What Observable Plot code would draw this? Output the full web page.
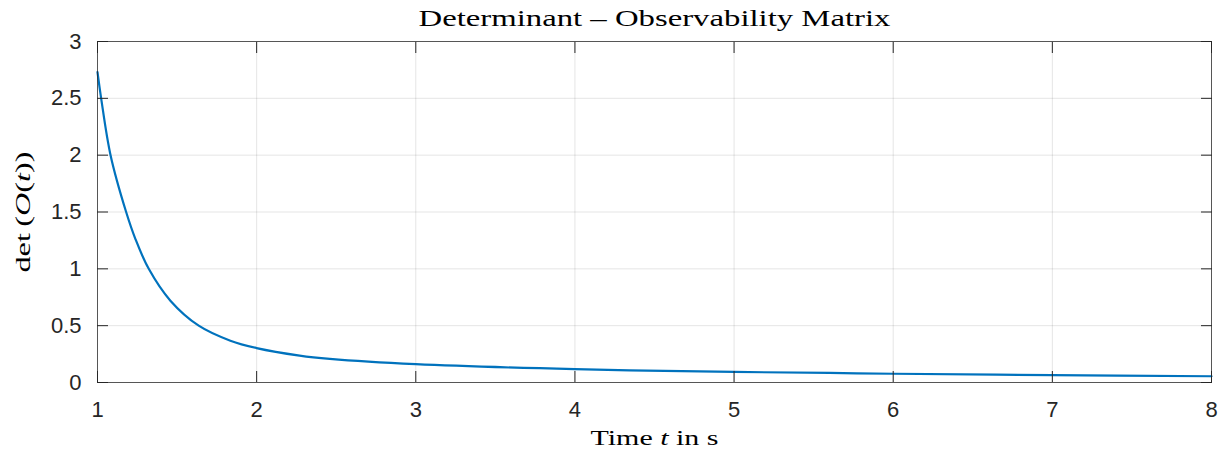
<!DOCTYPE html>
<html>
<head>
<meta charset="utf-8">
<script src="https://cdn.jsdelivr.net/npm/d3@7"></script>
<script src="https://cdn.jsdelivr.net/npm/@observablehq/plot@0.6"></script>
<style>
  html, body { margin: 0; padding: 0; background: #fff; }
</style>
</head>
<body>
<div id="chart"></div>
<script>
// Determinant of the observability matrix over time
const time = [1.0, 1.023, 1.082, 1.18, 1.239, 1.322, 1.458, 1.636, 1.835, 2.0, 2.27, 2.46, 3, 4, 5, 5.6, 6, 7, 8];
const det  = [2.73, 2.50, 2.00, 1.50, 1.26, 1.00, 0.72, 0.50, 0.368, 0.303, 0.237, 0.208, 0.161, 0.117, 0.093, 0.084, 0.077, 0.065, 0.055];

const xTicks = [1, 2, 3, 4, 5, 6, 7, 8];
const xTickLabels = ["1", "2", "3", "4", "5", "6", "7", "8"];
const yTicks = [0, 0.5, 1, 1.5, 2, 2.5, 3];
const yTickLabels = ["0", "0.5", "1", "1.5", "2", "2.5", "3"];

const titleText = "Determinant – Observability Matrix";
// label pieces: [text, italic?]
const xLabelParts = [["Time ", false], ["t", true], [" in s", false]];
const yLabelParts = [["det\u2009(", false], ["O", true], ["(", false], ["t", true], ["))", false]];

const rows = time.map((t, i) => ({t, v: det[i]}));
const ink = "#262626";
const serif = "'Liberation Serif', 'Times New Roman', serif";
const joined = parts => parts.map(p => p[0]).join("");

const chart = Plot.plot({
  width: 1226,
  height: 452,
  marginTop: 41,
  marginBottom: 70,
  marginLeft: 97,
  marginRight: 15,
  x: {domain: [1, 8], label: null},
  y: {domain: [0, 3], label: null},
  style: {fontFamily: "'Liberation Sans', Arial, sans-serif", fontSize: "22px", color: ink, background: "#fff"},
  marks: [
    Plot.gridX(xTicks, {stroke: ink, strokeOpacity: 0.12, strokeWidth: 1}),
    Plot.gridY(yTicks, {stroke: ink, strokeOpacity: 0.12, strokeWidth: 1}),
    Plot.line(rows, {x: "t", y: "v", stroke: "#0072BD", strokeWidth: 2.2, curve: "catmull-rom"}),
    Plot.frame({stroke: ink, strokeOpacity: 0.75}),
    // inward tick marks on all four sides
    Plot.axisX(xTicks, {anchor: "bottom", tickSize: -11, tickFormat: () => "", stroke: ink, label: null}),
    Plot.axisX(xTicks, {anchor: "top", tickSize: -11, tickFormat: () => "", stroke: ink, label: null}),
    Plot.axisY(yTicks, {anchor: "left", tickSize: -11, tickFormat: () => "", stroke: ink, label: null}),
    Plot.axisY(yTicks, {anchor: "right", tickSize: -11, tickFormat: () => "", stroke: ink, label: null}),
    // tick labels
    Plot.axisX(xTicks, {anchor: "bottom", tickSize: 0, tickPadding: 19, fill: ink, label: null,
      tickFormat: d => xTickLabels[xTicks.indexOf(d)]}),
    Plot.axisY(yTicks, {anchor: "left", tickSize: 0, tickPadding: 16, fill: ink, label: null,
      tickFormat: d => yTickLabels[yTicks.indexOf(d)]}),
    // title and axis labels
    Plot.text([titleText], {frameAnchor: "top", dy: -23, lineAnchor: "middle", textAnchor: "middle", fontFamily: serif, fontSize: 23, fill: "#000", className: "ttl"}),
    Plot.text([joined(xLabelParts)], {frameAnchor: "bottom", dy: 55, lineAnchor: "middle", textAnchor: "middle", fontFamily: serif, fontSize: 22, fill: "#000", className: "xlab"}),
    Plot.text([joined(yLabelParts)], {frameAnchor: "left", dx: -75, rotate: -90, lineAnchor: "middle", textAnchor: "middle", fontFamily: serif, fontSize: 22, fill: "#000", className: "ylab"})
  ]
});

document.getElementById("chart").appendChild(chart);

// rebuild label text with italic math symbols, and widen the serif glyphs
function setParts(selector, parts, length) {
  const el = d3.select(chart).select(selector + " text");
  if (el.empty()) return;
  if (parts) {
    el.text(null);
    for (const [s, it] of parts) {
      const ts = el.append("tspan").text(s);
      if (it) ts.attr("font-style", "italic");
    }
  }
  el.attr("textLength", length).attr("lengthAdjust", "spacingAndGlyphs");
}
setParts(".ttl", null, 472);
setParts(".xlab", xLabelParts, 128);
setParts(".ylab", yLabelParts, 121);
</script>
</body>
</html>
